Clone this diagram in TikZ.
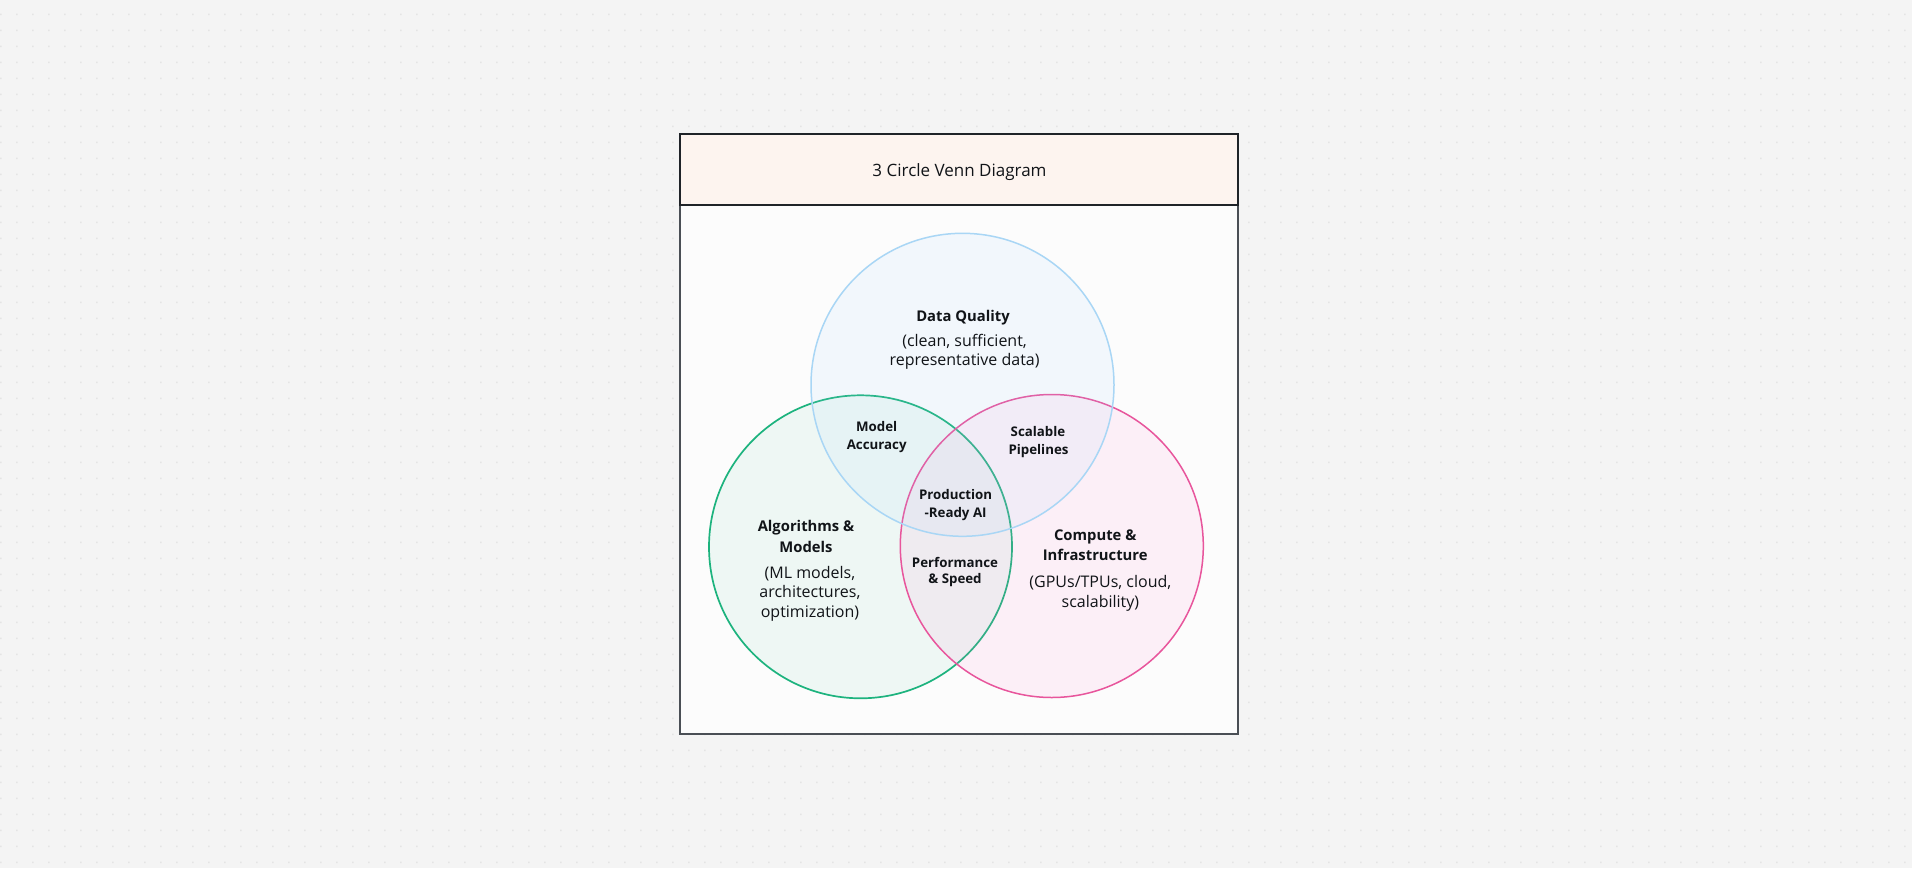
\documentclass[tikz,border=0pt]{standalone}
\usepackage{fontspec}
\setmainfont{Open Sans}
\definecolor{bgc}{HTML}{F4F4F4}
\definecolor{dotc}{HTML}{E4E4E4}
\definecolor{bodyc}{HTML}{FCFCFC}
\definecolor{headc}{HTML}{FDF4EF}
\definecolor{framec}{HTML}{4A4F55}
\definecolor{headline}{HTML}{1F2328}
\definecolor{ink}{HTML}{111418}
\definecolor{bluel}{HTML}{A9D6F5}
\definecolor{bluef}{HTML}{A2D4FF}
\definecolor{greenl}{HTML}{1DB37E}
\definecolor{greenf}{HTML}{7AD4B6}
\definecolor{pinkl}{HTML}{E8559C}
\definecolor{pinkf}{HTML}{FF84D4}
\tikzset{
  lbl/.style={anchor=base, inner sep=0pt, text=ink},
  ttl/.style={lbl, font=\fontsize{17}{20}\selectfont},
  head/.style={lbl, font=\bfseries\fontsize{14.8}{18}\selectfont},
  desc/.style={lbl, font=\fontsize{16}{19}\selectfont},
  inter/.style={lbl, font=\bfseries\fontsize{13.3}{16}\selectfont},
  venn/.style={circle, inner sep=0pt, minimum size=303pt},
}
\begin{document}
\begin{tikzpicture}[x=1pt,y=-1pt]
\useasboundingbox (0,0) rectangle (1912,868);
\fill[bgc] (0,0) rectangle (1912,868);
\fill[dotc] \foreach \i in {0,...,119} {\foreach \j in {0,...,53} {(16*\i,13.6+16*\j) rectangle ++(1.5,1.5)}};
% frame
\filldraw[fill=bodyc, draw=framec, line width=1.3pt] (680,134) rectangle (1238,734);
\filldraw[fill=headc, draw=headline, line width=1.8pt] (680,134) rectangle (1238,205);
\node[ttl] (title) at (959.5,176.4) {3 Circle Venn Diagram};
% circles
\node[venn, draw=greenl, line width=1.7pt, fill=greenf, fill opacity=0.1] (alg) at (860.5,546.8) {};
\node[venn, draw=pinkl, line width=1.5pt, fill=pinkf, fill opacity=0.1] (cmp) at (1051.8,546) {};
\node[venn, draw=bluel, line width=1.5pt, fill=bluef, fill opacity=0.1] (dq) at (962.5,384.8) {};
% labels
\node[head] (dqh) at (963,321.8) {Data Quality};
\node[desc] (dq1) at (964.6,346.1) {(clean, sufficient,};
\node[desc] (dq2) at (964.6,365.3) {representative data)};
\node[inter] (ma1) at (876.7,431.6) {Model};
\node[inter] (ma2) at (876.7,449.5) {Accuracy};
\node[inter] (sp1) at (1038,436.2) {Scalable};
\node[inter] (sp2) at (1038.5,454.1) {Pipelines};
\node[inter] (pr1) at (955.6,499) {Production};
\node[inter] (pr2) at (955.6,517.9) {-Ready AI};
\node[head] (al1) at (806,531.7) {Algorithms \&};
\node[head] (al2) at (806,552) {Models};
\node[desc] (ald1) at (810,578) {(ML models,};
\node[desc] (ald2) at (810,597.9) {architectures,};
\node[desc] (ald3) at (810,617.8) {optimization)};
\node[inter] (ps1) at (955,567.1) {Performance};
\node[inter] (ps2) at (955,583.8) {\& Speed};
\node[head] (co1) at (1095.2,540.4) {Compute \&};
\node[head] (co2) at (1095.2,560.3) {Infrastructure};
\node[desc] (cod1) at (1100.4,587.9) {(GPUs/TPUs, cloud,};
\node[desc] (cod2) at (1100.4,607.8) {scalability)};
\end{tikzpicture}
\end{document}
